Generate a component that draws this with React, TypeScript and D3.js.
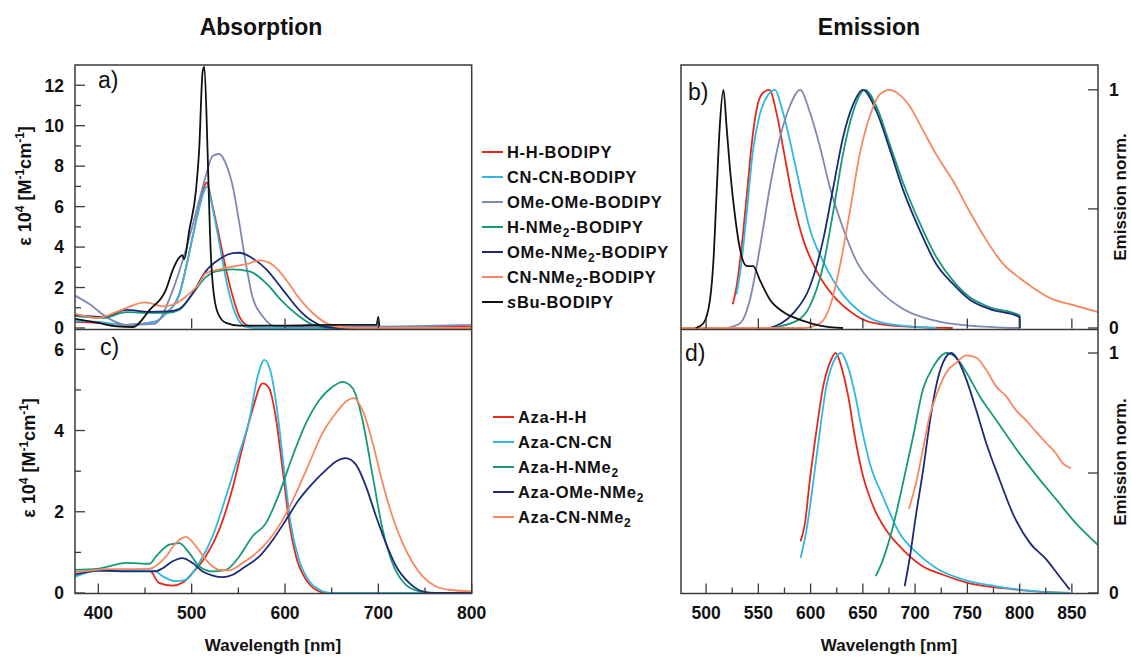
import React from 'react'
import * as d3 from 'd3'

type Pt = [number, number]

// ---- panel a: BODIPY absorption (wavelength nm, eps 10^4) ----
const absHH: Pt[] = [[375, 0.3], [400, 0.25], [430, 0.15], [460, 0.3], [472, 0.7], [487, 1.7], [494, 3.0], [501, 4.5], [508, 6.0], [513.6, 7.0], [516, 7.2], [522.5, 6.0], [529.6, 4.5], [536.8, 2.9], [544, 1.56], [551, 0.58], [558, 0.16], [565, 0.03], [600, 0.02], [700, 0.05], [800, 0.05]]
const absCNCN: Pt[] = [[375, 0.35], [400, 0.3], [430, 0.15], [460, 0.3], [472, 0.7], [487, 1.7], [494, 3.0], [501, 4.5], [508, 5.9], [513.6, 6.8], [517, 7.0], [522.5, 5.9], [529.6, 4.2], [536.8, 2.4], [544, 1.07], [551, 0.33], [558, 0.05], [570, 0.0], [800, 0.0]]
const absOMeOMe: Pt[] = [[375, 1.6], [390, 1.2], [410, 0.5], [430, 0.15], [460, 0.2], [480, 1.9], [494, 3.9], [508, 6.3], [515, 7.5], [522.5, 8.5], [529.6, 8.6], [536.8, 8.1], [544, 7.0], [551, 5.2], [558, 3.2], [565, 1.56], [576, 0.58], [590, 0.08], [650, 0.05], [750, 0.1], [800, 0.15]]
const absHNMe2: Pt[] = [[375, 0.6], [405, 0.5], [430, 0.78], [455, 0.75], [475, 0.75], [487, 0.9], [501, 1.7], [515, 2.5], [526, 2.8], [544, 2.9], [562, 2.8], [580, 2.2], [597.5, 1.3], [615, 0.58], [629.6, 0.16], [644, 0.02], [700, 0.0], [800, 0.0]]
const absOMeNMe2: Pt[] = [[375, 0.65], [405, 0.55], [430, 0.9], [455, 0.8], [475, 0.82], [487, 0.95], [501, 1.7], [515, 2.8], [529.6, 3.4], [544, 3.7], [551, 3.72], [565, 3.45], [580, 2.9], [597.5, 1.9], [615, 0.9], [629.6, 0.33], [644, 0.05], [660, 0.0], [800, 0.0]]
const absCNNMe2: Pt[] = [[375, 0.7], [400, 0.5], [425, 0.9], [450, 1.27], [470, 1.07], [482, 1.2], [494, 1.56], [508, 2.2], [515, 2.7], [529.6, 2.9], [544, 3.04], [562, 3.2], [572.5, 3.34], [587, 3.12], [601, 2.4], [615, 1.48], [629.6, 0.74], [644, 0.25], [658, 0.05], [680, 0.0], [800, 0.0]]
const absSBu: Pt[] = [[375, 0.45], [400, 0.25], [420, 0.08], [437, 0.05], [455, 0.9], [472.5, 1.9], [480, 2.9], [487, 3.5], [490, 3.6], [492, 3.4], [497.5, 4.85], [504.6, 6.8], [508, 8.8], [511.8, 12.7], [513.6, 12.9], [517, 8.8], [519.6, 4.7], [522.5, 2.2], [528, 0.74], [536.8, 0.25], [551, 0.12], [600, 0.12], [650, 0.15], [698, 0.15], [700, 0.55], [701, 0.1]]

// ---- panel b: BODIPY emission, normalised ----
const emHH: Pt[] = [[525.5, 0.1], [529, 0.17], [534, 0.34], [539, 0.56], [543.6, 0.77], [548, 0.91], [553, 0.98], [560.5, 1.0], [567.5, 0.9], [574, 0.75], [583, 0.54], [593, 0.37], [605.7, 0.24], [624.8, 0.12], [640.8, 0.06], [656.7, 0.025], [688.5, 0.007], [736, 0.0]]
const emCNCN: Pt[] = [[529, 0.14], [534, 0.28], [539, 0.49], [545, 0.75], [551.6, 0.9], [559.5, 0.98], [566, 1.0], [572, 0.93], [580, 0.79], [590, 0.59], [599, 0.42], [612, 0.28], [631, 0.14], [650, 0.06], [672.6, 0.018], [720, 0.0]]
const emOMeOMe: Pt[] = [[519.7, 0.0], [532.5, 0.02], [542, 0.12], [551.6, 0.34], [561, 0.59], [570.7, 0.8], [580, 0.93], [590, 1.0], [599, 0.91], [609, 0.76], [618.5, 0.59], [631, 0.42], [644, 0.28], [663, 0.17], [688.5, 0.08], [720, 0.03], [752, 0.01], [800, 0.0]]
const emHNMe2: Pt[] = [[561, 0.0], [586.6, 0.03], [599, 0.09], [612, 0.26], [621.7, 0.49], [631, 0.73], [640.8, 0.91], [652, 1.0], [663, 0.93], [675.8, 0.77], [688.5, 0.61], [704.5, 0.44], [720, 0.3], [736, 0.2], [752, 0.13], [771, 0.088], [800, 0.053], [800.1, 0.0]]
const emOMeNMe2: Pt[] = [[561, 0.0], [583, 0.06], [599, 0.17], [612, 0.37], [621.7, 0.59], [631, 0.8], [640.8, 0.94], [650, 1.0], [663, 0.91], [675.8, 0.75], [688.5, 0.58], [704.5, 0.41], [720, 0.27], [736, 0.186], [752, 0.12], [771, 0.08], [800, 0.046], [800.1, 0.0]]
const emCNNMe2: Pt[] = [[475, 0.0], [593, 0.0], [609, 0.02], [618.5, 0.09], [628, 0.26], [637.6, 0.49], [647, 0.73], [656.7, 0.89], [666, 0.98], [675.8, 1.0], [685, 0.98], [695, 0.93], [707.6, 0.83], [720, 0.73], [736, 0.62], [752, 0.49], [768, 0.37], [784, 0.27], [800, 0.21], [816, 0.16], [832, 0.12], [848, 0.1], [875, 0.067]]
const emSBu: Pt[] = [[490, 0.0], [497.5, 0.02], [503.8, 0.12], [507, 0.28], [510, 0.56], [513, 0.84], [516.6, 1.0], [519.7, 0.84], [523, 0.66], [527.7, 0.47], [532.5, 0.33], [539, 0.26], [545, 0.26], [551.6, 0.2], [561, 0.12], [574, 0.067], [593, 0.03], [609, 0.01], [631, 0.0]]

// ---- panel c: aza-BODIPY absorption ----
const absAzaHH: Pt[] = [[375, 0.5], [400, 0.55], [455, 0.55], [465, 0.25], [479.6, 0.18], [490, 0.25], [501, 0.5], [515, 0.9], [529.6, 1.56], [544, 2.6], [554.6, 3.6], [565, 4.5], [576, 5.16], [583, 5.04], [590, 4.34], [597.5, 3.03], [604.6, 1.72], [611.8, 0.9], [622.5, 0.33], [633, 0.08], [644, 0.0], [800, 0.0]]
const absAzaCNCN: Pt[] = [[375, 0.4], [400, 0.55], [460, 0.55], [469, 0.41], [483, 0.29], [494, 0.33], [508, 0.74], [522.5, 1.4], [536.8, 2.38], [551, 3.44], [561.8, 4.26], [570.7, 5.33], [577.9, 5.74], [585, 5.41], [592, 4.43], [599, 3.03], [606, 1.72], [615, 0.82], [626, 0.29], [637, 0.08], [648, 0.0], [800, 0.0]]
const absAzaHNMe2: Pt[] = [[375, 0.57], [400, 0.6], [430, 0.74], [455, 0.72], [461.8, 0.9], [476, 1.19], [486.8, 1.23], [497.5, 0.98], [508, 0.66], [522.5, 0.53], [536.8, 0.57], [551, 0.9], [565, 1.39], [579.6, 1.72], [594, 2.46], [608, 3.36], [622.5, 4.18], [636.8, 4.75], [651, 5.08], [661.8, 5.2], [672.5, 5.04], [683, 4.26], [694, 2.87], [704.6, 1.56], [715, 0.74], [729.6, 0.2], [744, 0.04], [760, 0.0], [800, 0.0]]
const absAzaOMeNMe2: Pt[] = [[375, 0.45], [400, 0.55], [440, 0.53], [460, 0.53], [469, 0.61], [479.6, 0.78], [490, 0.86], [501, 0.74], [511.8, 0.53], [522.5, 0.43], [533, 0.39], [544, 0.45], [558, 0.66], [572.5, 0.9], [587, 1.31], [601, 1.8], [615, 2.3], [629.6, 2.7], [644, 3.03], [654.6, 3.24], [665, 3.32], [676, 3.16], [686.8, 2.62], [697.5, 1.89], [708, 1.23], [719, 0.66], [733, 0.25], [747.5, 0.04], [760, 0.0], [800, 0.0]]
const absAzaCNNMe2: Pt[] = [[375, 0.5], [410, 0.59], [440, 0.59], [455, 0.6], [472.5, 0.9], [483, 1.23], [494, 1.38], [504.6, 1.15], [515, 0.82], [529.6, 0.57], [540, 0.56], [554.6, 0.74], [569, 0.98], [583, 1.31], [597.5, 1.8], [611.8, 2.46], [626, 3.2], [640, 3.93], [654.6, 4.43], [665, 4.71], [674, 4.8], [683, 4.5], [694, 3.69], [704.6, 2.7], [715, 1.89], [726, 1.23], [737, 0.74], [747.5, 0.41], [761.8, 0.16], [776, 0.08], [800, 0.04]]

// ---- panel d: aza-BODIPY emission, normalised ----
const emAzaHH: Pt[] = [[590.4, 0.215], [594.6, 0.29], [599, 0.46], [605.7, 0.68], [612, 0.86], [618.5, 0.96], [624, 1.0], [629.6, 0.94], [636, 0.82], [642.4, 0.65], [650, 0.49], [660, 0.36], [672.6, 0.26], [688.5, 0.18], [707.6, 0.11], [726.7, 0.076], [752, 0.04], [784, 0.02], [816, 0.007], [848, 0.0]]
const emAzaCNCN: Pt[] = [[590.4, 0.146], [596, 0.26], [602.5, 0.46], [609, 0.68], [615, 0.86], [621.6, 0.96], [629, 1.0], [636, 0.94], [642.4, 0.83], [648.7, 0.69], [656.7, 0.54], [669.4, 0.4], [685, 0.25], [701, 0.17], [720, 0.104], [746, 0.056], [777.7, 0.028], [816, 0.007], [848, 0.0]]
const emAzaHNMe2: Pt[] = [[662.4, 0.07], [669.4, 0.14], [679, 0.28], [688.5, 0.46], [698, 0.65], [707.6, 0.85], [717, 0.94], [730, 1.0], [739.5, 0.98], [749, 0.92], [761.8, 0.82], [777.7, 0.72], [796.8, 0.6], [816, 0.49], [835, 0.39], [854, 0.29], [875, 0.2]]
const emAzaOMeNMe2: Pt[] = [[690, 0.028], [695, 0.15], [701, 0.33], [707.6, 0.51], [714, 0.71], [720, 0.86], [726.7, 0.96], [734.7, 1.0], [741, 0.97], [749, 0.89], [758.6, 0.76], [768, 0.625], [781, 0.47], [793.6, 0.33], [809.6, 0.21], [825.5, 0.14], [838, 0.07], [848, 0.014]]
const emAzaCNNMe2: Pt[] = [[694, 0.35], [701, 0.46], [707.6, 0.6], [714, 0.74], [720, 0.82], [730, 0.92], [739.5, 0.96], [749, 0.99], [758.6, 0.98], [768, 0.93], [777.7, 0.86], [787, 0.82], [796.8, 0.76], [806, 0.72], [816, 0.67], [825.5, 0.625], [835, 0.58], [841.4, 0.54], [849, 0.52]]

const bodipyNames = ['H-H-BODIPY', 'CN-CN-BODIPY', 'OMe-OMe-BODIPY', 'H-NMe2-BODIPY', 'OMe-NMe2-BODIPY', 'CN-NMe2-BODIPY', 'sBu-BODIPY']
const azaNames = ['Aza-H-H', 'Aza-CN-CN', 'Aza-H-NMe2', 'Aza-OMe-NMe2', 'Aza-CN-NMe2']

const C = {
  red: '#e6281b',
  cyan: '#2fb8e2',
  grey: '#7d88b6',
  green: '#169a78',
  navy: '#1d2b76',
  salmon: '#f8875f',
  black: '#111111',
}
const bodipyColors = [C.red, C.cyan, C.grey, C.green, C.navy, C.salmon, C.black]
const azaColors = [C.red, C.cyan, C.green, C.navy, C.salmon]

const absA = [absHH, absCNCN, absOMeOMe, absHNMe2, absOMeNMe2, absCNNMe2, absSBu]
const emB = [emHH, emCNCN, emOMeOMe, emHNMe2, emOMeNMe2, emCNNMe2, emSBu]
const absC = [absAzaHH, absAzaCNCN, absAzaHNMe2, absAzaOMeNMe2, absAzaCNNMe2]
const emD = [emAzaHH, emAzaCNCN, emAzaHNMe2, emAzaOMeNMe2, emAzaCNNMe2]

const W = 1131
const H = 657
const FONT = 'Liberation Sans, Arial, sans-serif'
const frame = '#3a3a3a'

// left / right x scales
const xL = d3.scaleLinear().domain([375, 800]).range([75, 471.7])
const xR = d3.scaleLinear().domain([476, 875]).range([681, 1098])
const yA = d3.scaleLinear().domain([0, 13]).range([328, 65])
const yC = d3.scaleLinear().domain([0, 6.5]).range([593, 329])
const yB = d3.scaleLinear().domain([0, 1.1]).range([328, 66])
const yD = d3.scaleLinear().domain([0, 1.1]).range([593, 329])

const Curves = ({ sets, colors, x, y, clip }: { sets: Pt[][], colors: string[], x: any, y: any, clip: string }) => {
  const line = d3.line<Pt>().x(d => x(d[0])).y(d => y(d[1])).curve(d3.curveMonotoneX)
  return (
    <g clipPath={`url(#${clip})`} fill="none" strokeWidth={1.8} strokeLinejoin="round">
      {sets.map((s, i) => <path key={i} d={line(s) || ''} stroke={colors[i]} />)}
    </g>
  )
}

// name with subscripted "2" after NMe and italic leading s
const Label = ({ name }: { name: string }) => {
  const parts = name.split('NMe2')
  const out: any[] = []
  let shift = 0
  parts.forEach((p, i) => {
    const dy = shift ? -shift : undefined
    shift = 0
    if (p.startsWith('sBu')) {
      out.push(<tspan key={'i' + i} fontStyle="italic">s</tspan>)
      out.push(<tspan key={'t' + i}>{p.slice(1)}</tspan>)
    } else if (p) out.push(<tspan key={'t' + i} dy={dy}>{p}</tspan>)
    if (i < parts.length - 1) {
      out.push(<tspan key={'n' + i}>NMe</tspan>)
      out.push(<tspan key={'s' + i} fontSize={12} dy={4}>2</tspan>)
      shift = 4
    }
  })
  return <>{out}</>
}

const Legend = ({ names, colors, x1, x2, y0, step }: { names: string[], colors: string[], x1: number, x2: number, y0: number, step: number }) => (
  <g fontFamily={FONT} fontWeight="bold" fontSize={16.5} letterSpacing={0.7} fill="#111">
    {names.map((n, i) => (
      <g key={n}>
        <line x1={x1} x2={x2} y1={y0 + i * step} y2={y0 + i * step} stroke={colors[i]} strokeWidth={2} />
        <text x={x2 + 4} y={y0 + i * step} dy="0.36em"><Label name={n} /></text>
      </g>
    ))}
  </g>
)

const App = () => {
  const leftYTicks = (y: any, major: number[], minor: number[], x0: number) => (
    <g stroke={frame} strokeWidth={1.3}>
      {major.map(t => <line key={'M' + t} x1={x0} x2={x0 + 10} y1={y(t)} y2={y(t)} />)}
      {minor.map(t => <line key={'m' + t} x1={x0} x2={x0 + 6} y1={y(t)} y2={y(t)} />)}
    </g>
  )
  const xTicks = (x: any, major: number[], minor: number[], y0: number) => (
    <g stroke={frame} strokeWidth={1.3}>
      {major.map(t => <line key={'M' + t} x1={x(t)} x2={x(t)} y1={y0} y2={y0 - 10} />)}
      {minor.map(t => <line key={'m' + t} x1={x(t)} x2={x(t)} y1={y0} y2={y0 - 6} />)}
    </g>
  )
  const rightYTicks = (y: any, ticks: number[], x0: number) => (
    <g stroke={frame} strokeWidth={1.3}>
      {ticks.map(t => <line key={t} x1={x0} x2={x0 - 10} y1={y(t)} y2={y(t)} />)}
    </g>
  )

  const lMajor = d3.range(400, 801, 100)
  const lMinor = d3.range(450, 800, 100)
  const rMajor = d3.range(500, 851, 50)
  const rMinor = d3.range(525, 851, 50)

  return (
    <svg width={W} height={H} style={{ position: 'absolute', left: 0, top: 0, background: '#fff' }}>
      <defs>
        <clipPath id="cA"><rect x={75} y={65} width={396.7} height={264} /></clipPath>
        <clipPath id="cC"><rect x={75} y={329} width={396.7} height={265} /></clipPath>
        <clipPath id="cB"><rect x={681} y={65} width={417} height={264} /></clipPath>
        <clipPath id="cD"><rect x={681} y={329} width={417} height={265} /></clipPath>
      </defs>

      {/* titles */}
      <g fontFamily={FONT} fontWeight="bold" fontSize={23} fill="#111" textAnchor="middle">
        <text x={261} y={35}>Absorption</text>
        <text x={869} y={35}>Emission</text>
      </g>

      {/* curves */}
      <Curves sets={absA} colors={bodipyColors} x={xL} y={yA} clip="cA" />
      <Curves sets={absC} colors={azaColors} x={xL} y={yC} clip="cC" />
      <Curves sets={emB} colors={bodipyColors} x={xR} y={yB} clip="cB" />
      <Curves sets={emD} colors={azaColors} x={xR} y={yD} clip="cD" />

      {/* frames */}
      <g fill="none" stroke={frame} strokeWidth={1.5}>
        <rect x={75} y={65} width={396.7} height={528.5} />
        <line x1={75} x2={471.7} y1={329.5} y2={329.5} />
        <rect x={681} y={65} width={417} height={528.5} />
        <line x1={681} x2={1098} y1={329.5} y2={329.5} />
      </g>

      {/* ticks */}
      {leftYTicks(yA, d3.range(0, 13, 2), d3.range(1, 13, 2), 75)}
      {leftYTicks(yC, d3.range(0, 7, 2), d3.range(1, 6, 2), 75)}
      {xTicks(xL, [500, 600, 700], [], 328.5)}
      {xTicks(xL, lMajor, lMinor, 593.5)}
      {xTicks(xR, rMajor, [], 328.5)}
      {xTicks(xR, rMajor, rMinor, 593.5)}
      {rightYTicks(yB, [0, 0.5, 1], 1098)}
      {rightYTicks(yD, [0, 0.5, 1], 1098)}

      {/* tick labels */}
      <g fontFamily={FONT} fontWeight="bold" fontSize={17.5} fill="#111">
        {d3.range(0, 13, 2).map(t => <text key={'a' + t} x={64} y={yA(t)} dy="0.36em" textAnchor="end">{t}</text>)}
        {d3.range(0, 7, 2).map(t => <text key={'c' + t} x={64} y={yC(t)} dy="0.36em" textAnchor="end">{t}</text>)}
        {lMajor.map(t => <text key={'x' + t} x={xL(t)} y={619} textAnchor="middle">{t}</text>)}
        {rMajor.map(t => <text key={'r' + t} x={xR(t)} y={619} textAnchor="middle">{t}</text>)}
        {[0, 1].map(t => <text key={'b' + t} x={1109} y={yB(t)} dy="0.36em">{t}</text>)}
        {[0, 1].map(t => <text key={'d' + t} x={1109} y={yD(t)} dy="0.36em">{t}</text>)}
      </g>

      {/* axis titles */}
      <g fontFamily={FONT} fontWeight="bold" fontSize={17} fill="#111" textAnchor="middle">
        <text x={273} y={651}>Wavelength [nm]</text>
        <text x={889} y={651}>Wavelength [nm]</text>
        {[{ cx: 31, cy: 186 }, { cx: 35, cy: 458 }].map((p, i) => (
          <text key={i} transform={`translate(${p.cx},${p.cy}) rotate(-90)`} fontSize={18}>
            ε 10<tspan fontSize={12} dy={-7}>4</tspan><tspan dy={7}> [M</tspan><tspan fontSize={12} dy={-7}>-1</tspan><tspan dy={7}>cm</tspan><tspan fontSize={12} dy={-7}>-1</tspan><tspan dy={7}>]</tspan>
          </text>
        ))}
        <text transform="translate(1126,197) rotate(-90)">Emission norm.</text>
        <text transform="translate(1126,462) rotate(-90)">Emission norm.</text>
      </g>

      {/* panel letters */}
      <g fontFamily={FONT} fontSize={23} fill="#111">
        <text x={98} y={88}>a)</text>
        <text x={688} y={100}>b)</text>
        <text x={100} y={355}>c)</text>
        <text x={685} y={361}>d)</text>
      </g>

      <Legend names={bodipyNames} colors={bodipyColors} x1={482} x2={503} y0={152} step={25} />
      <Legend names={azaNames} colors={azaColors} x1={493} x2={514} y0={417} step={25} />
    </svg>
  )
}

export default App
